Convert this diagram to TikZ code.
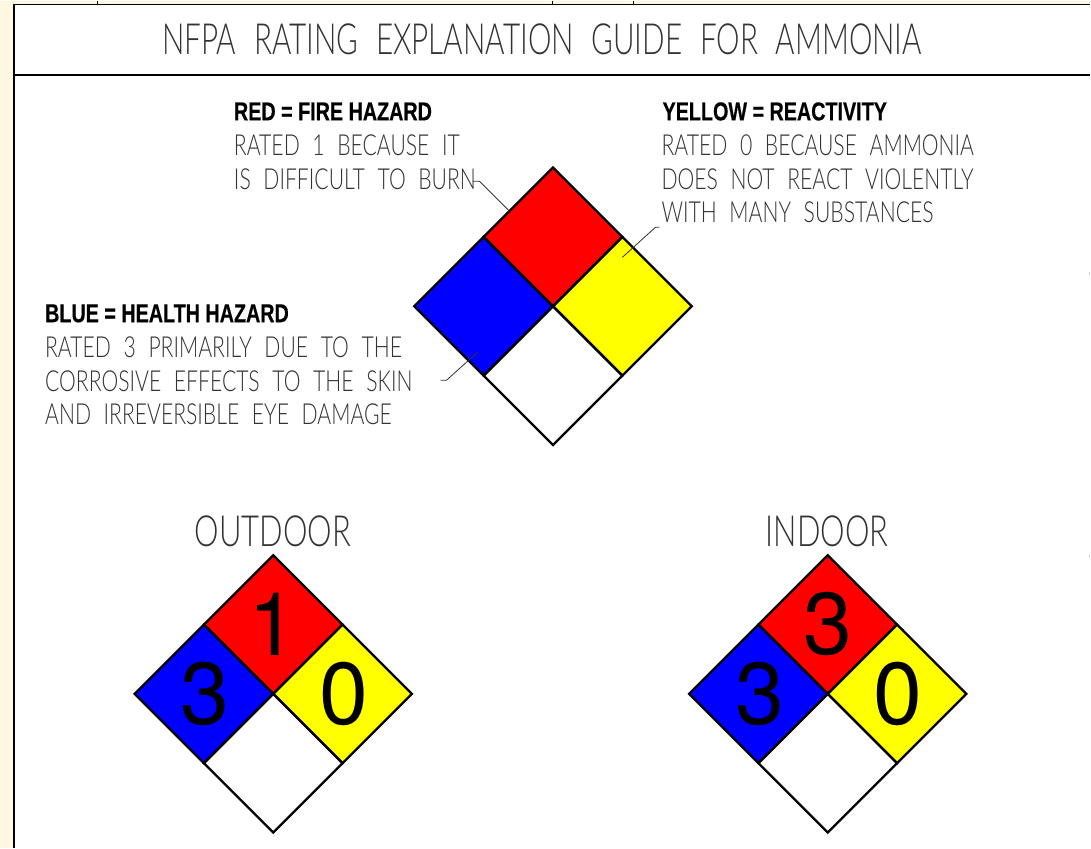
\documentclass[tikz,border=0pt]{standalone}
\usepackage{fontspec}
\usetikzlibrary{positioning,shapes.geometric}
\setmainfont{Lato Light}
\newfontfamily\titlefont[FakeStretch=0.69,WordSpace=2.2]{Lato Light}
\newfontfamily\capfont[FakeStretch=0.72]{Lato Light}
\newfontfamily\cadfont[FakeStretch=0.73,WordSpace=2.2]{Lato Light}
\newfontfamily\headfont[FakeStretch=0.76,FakeBold=0.4]{Liberation Sans Bold}
\newfontfamily\digitfont{TeX Gyre Heros}
\definecolor{margincream}{HTML}{FFF8E1}
\definecolor{cadgray}{HTML}{333333}
\definecolor{hazardred}{RGB}{255,0,0}
\definecolor{hazardblue}{RGB}{0,0,255}
\definecolor{hazardyellow}{RGB}{255,255,0}
\tikzset{
    hazardbox/.style={draw=black, diamond, aspect=1, line width=2.3pt, inner sep=0pt, minimum width=139.5pt, minimum height=139.5pt},
    digitlabel/.style={inner sep=0pt, font=\digitfont\fontsize{88}{88}\selectfont},
    headlabel/.style={anchor=base west, inner sep=0pt, font=\headfont\fontsize{26}{26}\selectfont},
    bodylabel/.style={anchor=north west, inner sep=0pt, align=left, text=cadgray, font=\cadfont\fontsize{29}{33.5}\selectfont},
    titlelabel/.style={inner sep=0pt, anchor=base, text=cadgray, font=\titlefont\fontsize{43}{43}\selectfont},
    caplabel/.style={inner sep=0pt, anchor=base, text=cadgray, font=\capfont\fontsize{43}{43}\selectfont},
    leader/.style={draw=cadgray, line width=0.8pt}
}
\newcommand{\placard}[6]{%
    \node (#1red) [hazardbox, fill=hazardred] at (#2,#3-69.5) {};
    \node (#1blue) [hazardbox, fill=hazardblue] at (#2-69.5,#3) {};
    \node (#1yellow) [hazardbox, fill=hazardyellow] at (#2+69.5,#3) {};
    \node (#1white) [hazardbox, fill=white] at (#2,#3+69.5) {};
    \node (#1redtxt) [digitlabel] at (#1red) {#4};
    \node (#1bluetxt) [digitlabel, xshift=1.5pt] at (#1blue) {#5};
    \node (#1yellowtxt) [digitlabel, xshift=1pt] at (#1yellow) {#6};
}
\begin{document}
\begin{tikzpicture}[x=1pt, y=-1pt]

% Page and frame
\fill[margincream] (0,0) rectangle (1091,848);
\fill[white] (14,4) rectangle (1091,848);
\draw[line width=2pt] (14,848) -- (14,4) -- (1091,4);
\draw[line width=2pt] (14,75) -- (1091,75);
\foreach \tickx in {98,553,634} {
    \draw[line width=1pt] (\tickx,0) -- (\tickx,4);
}
\foreach \ticky in {273,556} {
    \draw[line width=1pt, black!20] (1090,\ticky-1.5) -- (1090,\ticky+1.5);
}
\useasboundingbox (0,0) rectangle (1091,848);

% Title
\node (title) [titlelabel] at (542.5,54) {NFPA RATING EXPLANATION GUIDE FOR AMMONIA};

% Diamonds
\placard{main}{553.5}{306}{}{}{}
\placard{outdoor}{273.5}{694}{1}{3}{0}
\placard{indoor}{828.5}{694}{3}{3}{0}

% Explanations
\node (firehead) [headlabel] at (234,120) {RED = FIRE HAZARD};
\node (firetext) [bodylabel] at (234,134.5) {RATED 1 BECAUSE IT\\IS DIFFICULT TO BURN};
\node (reacthead) [headlabel] at (663,120) {YELLOW = REACTIVITY};
\node (reacttext) [bodylabel] at (662,134.5) {RATED 0 BECAUSE AMMONIA\\DOES NOT REACT VIOLENTLY\\WITH MANY SUBSTANCES};
\node (healthhead) [headlabel] at (45,322) {BLUE = HEALTH HAZARD};
\node (healthtext) [bodylabel] at (45,336.5) {RATED 3 PRIMARILY DUE TO THE\\CORROSIVE EFFECTS TO THE SKIN\\AND IRREVERSIBLE EYE DAMAGE};

% Leaders
\coordinate (fireend) at (473,181);
\coordinate (firetip) at (509,210);
\coordinate (reactend) at (660,227);
\coordinate (reacttip) at (623,257);
\coordinate (healthend) at (441,380);
\coordinate (healthtip) at (478,352);
\draw[leader] (fireend) -- ++(7,0) -- (firetip);
\draw[leader] (reactend) -- ++(-4,0) -- (reacttip);
\draw[leader] (healthend) -- ++(6,0) -- (healthtip);

% Captions
\node (outdoorcap) [caplabel] at (273,546) {OUTDOOR};
\node (indoorcap) [caplabel] at (828,546) {INDOOR};

\end{tikzpicture}
\end{document}
